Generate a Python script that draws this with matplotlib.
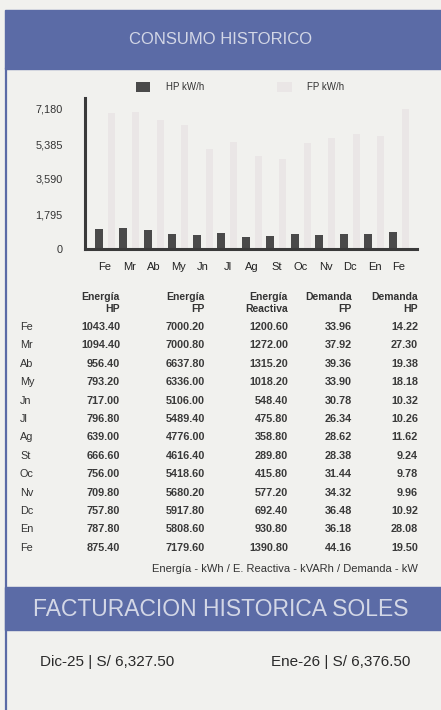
import matplotlib
matplotlib.use("Agg")
import matplotlib.pyplot as plt
from matplotlib.patches import Rectangle

plt.rcParams['font.family'] = ['Liberation Sans', 'DejaVu Sans']

months = ["Fe", "Mr", "Ab", "My", "Jn", "Jl", "Ag", "St", "Oc", "Nv", "Dc", "En", "Fe"]
energia_hp = [1043.40, 1094.40, 956.40, 793.20, 717.00, 796.80, 639.00,
              666.60, 756.00, 709.80, 757.80, 787.80, 875.40]
energia_fp = [7000.20, 7000.80, 6637.80, 6336.00, 5106.00, 5489.40, 4776.00,
              4616.40, 5418.60, 5680.20, 5917.80, 5808.60, 7179.60]
energia_reactiva = [1200.60, 1272.00, 1315.20, 1018.20, 548.40, 475.80, 358.80,
                    289.80, 415.80, 577.20, 692.40, 930.80, 1390.80]
demanda_fp = [33.96, 37.92, 39.36, 33.90, 30.78, 26.34, 28.62,
              28.38, 31.44, 34.32, 36.48, 36.18, 44.16]
demanda_hp = [14.22, 27.30, 19.38, 18.18, 10.32, 10.26, 11.62,
              9.24, 9.78, 9.96, 10.92, 28.08, 19.50]
y_ticks = [0, 1795, 3590, 5385, 7180]
y_ticklabels = ["0", "1,795", "3,590", "5,385", "7,180"]
col_headers = [("Energía", "HP"), ("Energía", "FP"), ("Energía", "Reactiva"),
               ("Demanda", "FP"), ("Demanda", "HP")]
facturacion = ["Dic-25 | S/ 6,327.50", "Ene-26 | S/ 6,376.50"]

W, H = 441, 710
BLUE = "#5b6ba6"
PAPER = "#f1f1ee"


def fx(x):
    return x / W


def fy(y):
    return 1 - y / H


fig = plt.figure(figsize=(W / 100, H / 100), dpi=100, facecolor=PAPER)

# header bands and left border
fig.patches.append(Rectangle((fx(5), fy(69)), fx(441) - fx(5), fy(10) - fy(69),
                             transform=fig.transFigure, color=BLUE, zorder=0))
fig.patches.append(Rectangle((fx(5), fy(630)), fx(441) - fx(5), fy(587) - fy(630),
                             transform=fig.transFigure, color=BLUE, zorder=0))
fig.lines.append(plt.Line2D([fx(6), fx(6)], [fy(69), fy(710)],
                            transform=fig.transFigure, color=BLUE, lw=1.6))
fig.text(fx(221), fy(39), "CONSUMO HISTORICO", ha="center", va="center",
         fontsize=12, color="#d3d7e6")
fig.text(fx(221), fy(609), "FACTURACION HISTORICA SOLES", ha="center",
         va="center", fontsize=16.5, color="#d3d7e6")

# ---- bar chart ----
ax = fig.add_axes([fx(85), fy(249), fx(417) - fx(85), fy(98) - fy(249)])
ax.set_facecolor("none")
x = list(range(len(months)))
hp_bars = ax.bar([i - 0.25 for i in x], energia_hp, width=0.32,
                 color="#4a4a4a", label="HP kW/h")
fp_bars = ax.bar([i + 0.26 for i in x], energia_fp, width=0.28,
                 color="#eae6e6", label="FP kW/h")
ax.set_xlim(-20 / 24.5, 312 / 24.5)
ax.set_ylim(0, 7180 * 151 / 140)
ax.set_yticks(y_ticks)
ax.set_yticklabels(y_ticklabels, fontsize=7.8, color="#333333")
ax.set_xticks(x)
ax.set_xticklabels(months, fontsize=8, color="#222222")
ax.tick_params(axis="y", length=0, pad=16)
ax.tick_params(axis="x", length=0, pad=9)
for s in ["top", "right"]:
    ax.spines[s].set_visible(False)
for s in ["left", "bottom"]:
    ax.spines[s].set_color("#3a3a3a")
    ax.spines[s].set_linewidth(2.2)

fig.legend(handles=[hp_bars, fp_bars], loc="center", ncol=2,
           bbox_to_anchor=(fx(240), fy(87)), frameon=False, fontsize=7,
           handlelength=1.5, handleheight=1.2, columnspacing=7.5,
           handletextpad=1.6, labelcolor="#333333")

# ---- table ----
col_right = [120, 205, 288, 352, 418]
for cx, (h1, h2) in zip(col_right, col_headers):
    fig.text(fx(cx), fy(297), h1, ha="right", va="center", fontsize=7.5,
             fontweight="bold", color="#333333")
    fig.text(fx(cx), fy(309), h2, ha="right", va="center", fontsize=7.5,
             fontweight="bold", color="#333333")

columns = [energia_hp, energia_fp, energia_reactiva, demanda_fp, demanda_hp]
for r, m in enumerate(months):
    yy = 327 + r * 18.4
    fig.text(fx(20), fy(yy), m, ha="left", va="center", fontsize=7.8,
             color="#333333")
    for cx, col in zip(col_right, columns):
        fig.text(fx(cx), fy(yy), f"{col[r]:.2f}", ha="right", va="center",
                 fontsize=7.8, fontweight="bold", color="#3a3a3a")

fig.text(fx(418), fy(569), "Energía - kWh / E. Reactiva - kVARh / Demanda - kW",
         ha="right", va="center", fontsize=8, color="#333333")

# ---- facturacion ----
fig.text(fx(40), fy(662), facturacion[0], ha="left", va="center",
         fontsize=11, color="#2a2a2a")
fig.text(fx(271), fy(662), facturacion[1], ha="left", va="center",
         fontsize=11, color="#2a2a2a")

fig.savefig("out.png", dpi=100, facecolor=PAPER)
